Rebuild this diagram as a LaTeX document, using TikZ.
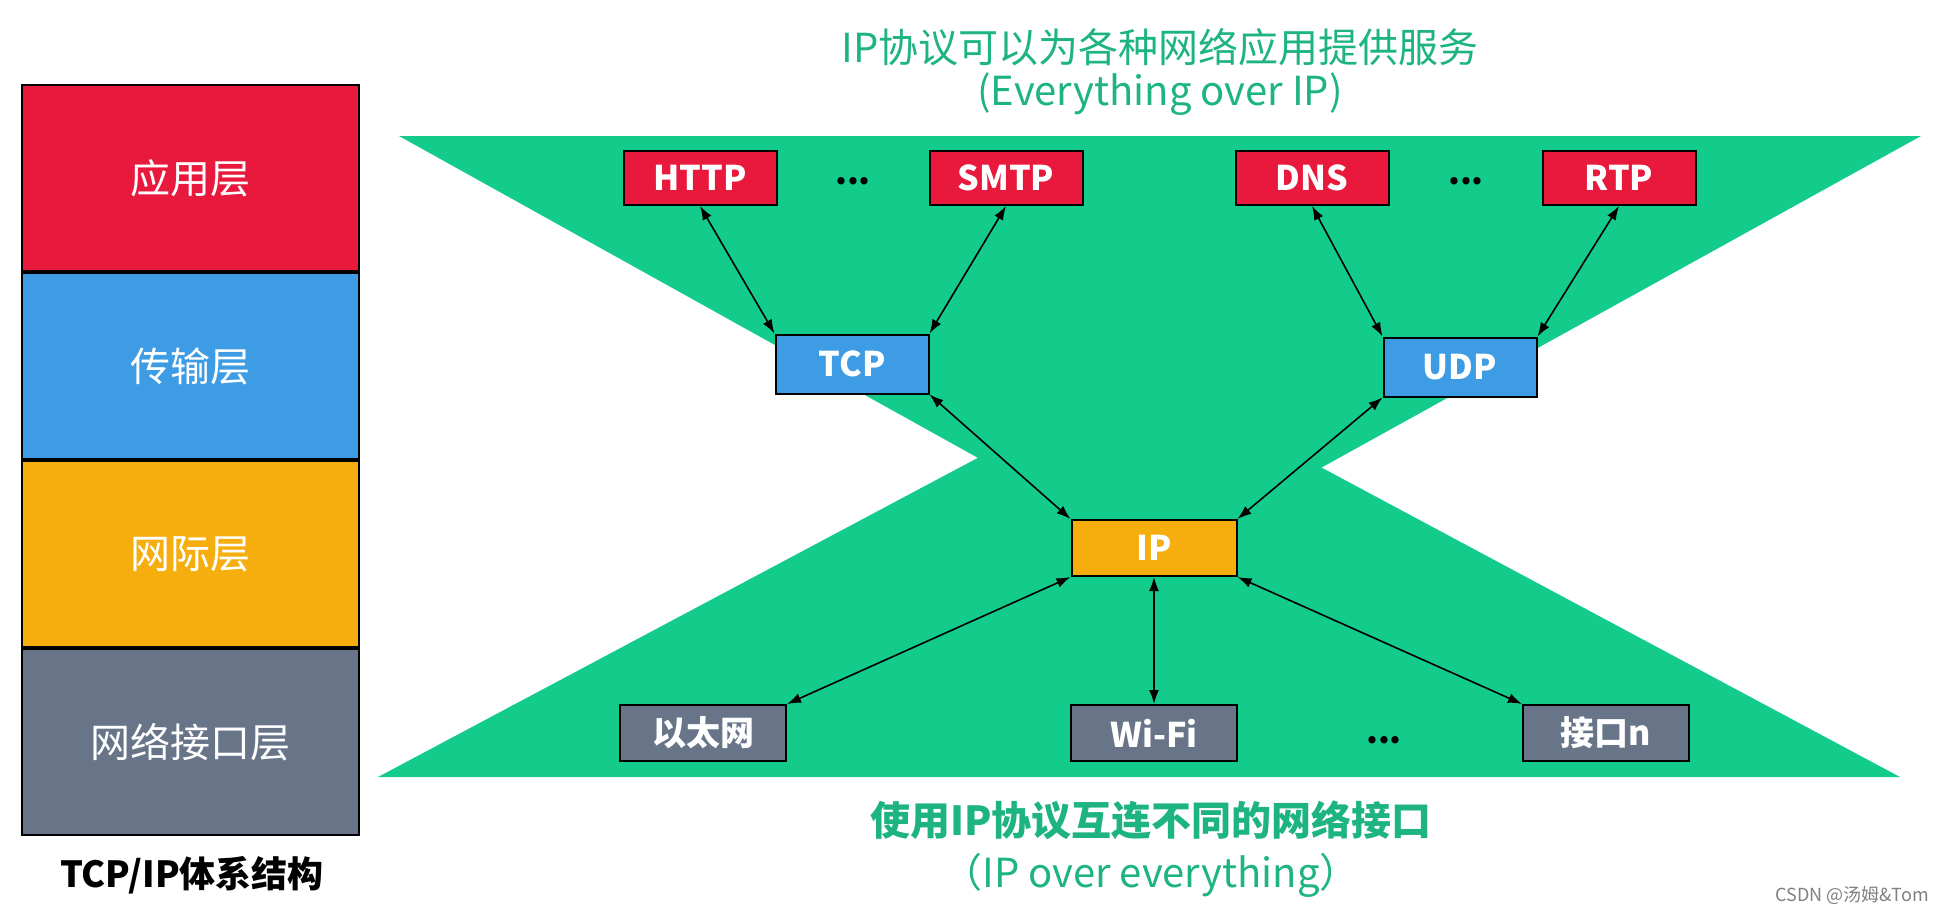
\documentclass[tikz,border=0pt]{standalone}
\usepackage{fontspec}
\setmainfont{Noto Sans CJK SC}
\usetikzlibrary{arrows.meta}
\definecolor{cred}{RGB}{232,25,60}
\definecolor{cblue}{RGB}{62,156,228}
\definecolor{corange}{RGB}{245,174,14}
\definecolor{cgrey}{RGB}{104,117,137}
\definecolor{cgreen}{RGB}{19,204,140}
\definecolor{ctext}{RGB}{30,180,128}

\tikzset{
	layer/.style={draw=black, line width=1pt, minimum width=168.5pt, minimum height=93pt, inner sep=0pt, text=white, font=\fontsize{20}{24}\selectfont},
	proto/.style={draw=black, line width=1pt, minimum width=76.5pt, minimum height=27pt, inner sep=0pt, text=white, font=\fontsize{17}{20}\selectfont\bfseries},
	link/.style={<->, line width=0.8pt},
	note/.style={text=ctext, font=\fontsize{20}{24}\selectfont, align=center},
	dots/.style={font=\fontsize{17}{20}\selectfont\bfseries},
}

\begin{document}
\begin{tikzpicture}[x=0.5pt, y=-0.5pt, >={Latex[length=7pt,width=5pt]}]
	\useasboundingbox (0,0) rectangle (1941,915);

	% Layer stack
	\node[layer, fill=cred] (app) at (190.5,178) {应用层};
	\node[layer, fill=cblue, anchor=north] (trans) at (app.south) {传输层};
	\node[layer, fill=corange, anchor=north] (inet) at (trans.south) {网际层};
	\node[layer, fill=cgrey, anchor=north] (netif) at (inet.south) {网络接口层};
	\node[font=\fontsize{18}{22}\selectfont\bfseries] (arch) at (192,875) {TCP/IP体系结构};

	% Hourglass
	\fill[cgreen] (399,136) -- (1921,136) -- (1158,558) -- cycle;
	\fill[cgreen] (378,777) -- (1900,777) -- (1141,371) -- cycle;

	% Notes
	\node[note] (over1) at (1160,47) {IP协议可以为各种网络应用提供服务};
	\node[note] (over2) at (1160,94) {(Everything over IP)};
	\node[note, font=\fontsize{20}{24}\selectfont\bfseries] (under1) at (1151,820) {使用IP协议互连不同的网络接口};
	\node[note] (under2) at (1151,875) {（IP over everything）};

	% Application boxes
	\node[proto, fill=cred] (http) at (700,178) {HTTP};
	\node[dots] (appdots1) at (853,181) {...};
	\node[proto, fill=cred] (smtp) at (1006,178) {SMTP};
	\node[proto, fill=cred] (dns) at (1312,178) {DNS};
	\node[dots] (appdots2) at (1466,181) {...};
	\node[proto, fill=cred] (rtp) at (1619,178) {RTP};

	% Transport boxes
	\node[proto, fill=cblue, minimum height=29.5pt] (tcp) at (852,364) {TCP};
	\node[proto, fill=cblue, minimum height=29.5pt] (udp) at (1460,367) {UDP};

	% IP box
	\node[proto, fill=corange, minimum width=82.5pt, minimum height=28pt] (ip) at (1154,548) {IP};

	% Interface boxes
	\node[proto, fill=cgrey, minimum width=83pt, minimum height=28pt] (eth) at (703,733) {以太网};
	\node[proto, fill=cgrey, minimum width=83pt, minimum height=28pt] (wifi) at (1154,733) {Wi-Fi};
	\node[dots] (ifdots) at (1384,740) {...};
	\node[proto, fill=cgrey, minimum width=83pt, minimum height=28pt] (ifn) at (1606,733) {接口n};

	% Arrows
	\draw[link] (http.south) -- (tcp.north west);
	\draw[link] (smtp.south) -- (tcp.north east);
	\draw[link] (dns.south) -- (udp.north west);
	\draw[link] (rtp.south) -- (udp.north east);
	\draw[link] (tcp.south east) -- (ip.north west);
	\draw[link] (udp.south west) -- (ip.north east);
	\draw[link] (ip.south west) -- (eth.north east);
	\draw[link] (ip.south) -- (wifi.north);
	\draw[link] (ip.south east) -- (ifn.north west);

	\node[text=gray, font=\fontsize{9}{11}\selectfont, anchor=east] (mark) at (1936,895) {CSDN @汤姆\&Tom};
\end{tikzpicture}
\end{document}
